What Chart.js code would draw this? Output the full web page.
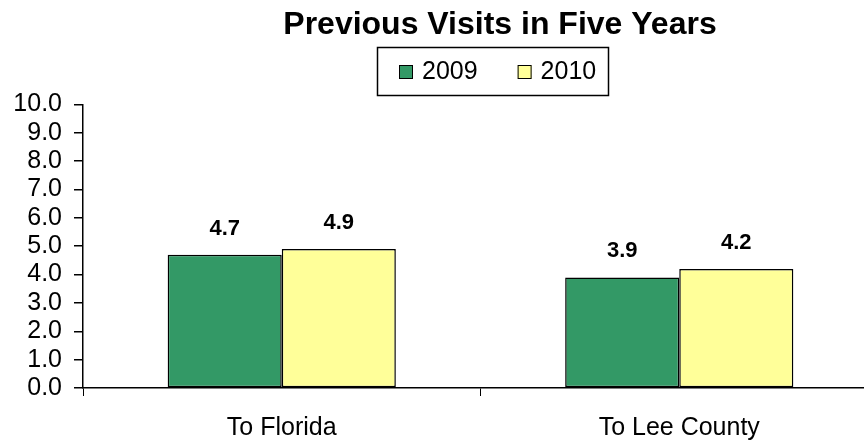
<!DOCTYPE html>
<html>
<head>
<meta charset="utf-8">
<script src="https://cdn.jsdelivr.net/npm/chart.js@4"></script>
<style>
  body { margin: 0; background: #fff; overflow: hidden; }
  #wrap { width: 864px; height: 441px; overflow: hidden; }
</style>
</head>
<body>
<div id="wrap">
  <canvas id="chart" width="1000" height="441"></canvas>
</div>
<script>
const categories = ["To Florida", "To Lee County"];
const seriesNames = ["2009", "2010"];
const values2009 = [4.7, 3.9];
const values2010 = [4.9, 4.2];
const seriesColors = ["#339966", "#FFFF99"];

const fontFamily = "'Liberation Sans', Arial, sans-serif";

// values above the bars
const barLabels = {
  id: "barLabels",
  afterDatasetsDraw(chart) {
    const ctx = chart.ctx;
    ctx.save();
    ctx.font = "bold 22px " + fontFamily;
    ctx.fillStyle = "#000";
    ctx.textAlign = "center";
    ctx.textBaseline = "middle";
    chart.data.datasets.forEach((ds, i) => {
      chart.getDatasetMeta(i).data.forEach((bar, j) => {
        ctx.fillText(ds.data[j].toFixed(1), bar.x, bar.y - 26);
      });
    });
    ctx.restore();
  }
};

// boxed legend like the original
const boxLegend = {
  id: "boxLegend",
  afterDraw(chart) {
    const ctx = chart.ctx;
    ctx.save();
    ctx.strokeStyle = "#000";
    ctx.lineWidth = 1.5;
    ctx.strokeRect(377.5, 47.5, 231, 48);
    ctx.font = "25px " + fontFamily;
    ctx.textBaseline = "middle";
    ctx.textAlign = "left";
    let x = 399;
    chart.data.datasets.forEach((ds) => {
      ctx.fillStyle = ds.backgroundColor;
      ctx.fillRect(x, 65, 14, 14);
      ctx.lineWidth = 1;
      ctx.strokeRect(x + 0.5, 65.5, 13, 13);
      ctx.fillStyle = "#000";
      ctx.fillText(ds.label, x + 23, 72);
      x += 23 + ctx.measureText(ds.label).width + 40;
    });
    ctx.restore();
  }
};

const ctx = document.getElementById("chart");
new Chart(ctx, {
  type: "bar",
  data: {
    labels: categories,
    datasets: [
      {
        label: seriesNames[0],
        data: values2009,
        backgroundColor: seriesColors[0],
        borderColor: "#000",
        borderWidth: 1.5,
        borderSkipped: false
      },
      {
        label: seriesNames[1],
        data: values2010,
        backgroundColor: seriesColors[1],
        borderColor: "#000",
        borderWidth: 1.5,
        borderSkipped: false
      }
    ]
  },
  options: {
    responsive: false,
    animation: false,
    events: [],
    categoryPercentage: 0.574,
    barPercentage: 1.0,
    layout: { padding: 0 },
    plugins: {
      legend: { display: false },
      tooltip: { enabled: false },
      title: {
        display: true,
        text: "Previous Visits in Five Years",
        color: "#000",
        font: { family: fontFamily, size: 32, weight: "bold" },
        padding: { top: 6, bottom: 60 }
      }
    },
    scales: {
      x: {
        grid: {
          drawOnChartArea: false,
          drawTicks: true,
          tickLength: 8,
          color: "#000",
          offset: true
        },
        border: { display: true, color: "#000", width: 1.5 },
        ticks: {
          color: "#000",
          font: { family: fontFamily, size: 25 },
          padding: 17,
          maxRotation: 0
        },
        afterFit(scale) { scale.height = 53; }
      },
      y: {
        min: 0,
        max: 10,
        ticks: {
          stepSize: 1,
          autoSkip: false,
          color: "#000",
          font: { family: fontFamily, size: 25 },
          padding: 12,
          callback: function(value) {
            return value.toFixed(1);
          }
        },
        grid: {
          drawOnChartArea: false,
          drawTicks: true,
          tickLength: 9,
          color: "#000",
          lineWidth: 1.5
        },
        border: { display: true, color: "#000", width: 1.5 },
        afterFit(scale) { scale.width = 83; }
      },
      spacer: {
        position: "right",
        display: true,
        grid: { display: false },
        border: { display: false },
        ticks: { display: false },
        afterFit(scale) { scale.width = 122; }
      }
    }
  },
  plugins: [barLabels, boxLegend]
});
</script>
</body>
</html>
